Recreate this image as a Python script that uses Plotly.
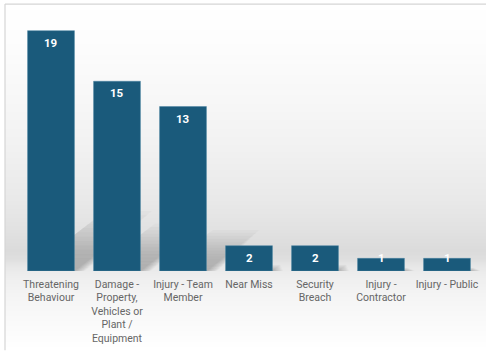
import base64
import struct
import zlib

import plotly.graph_objects as go

# Incident counts by category
categories = [
    "Threatening<br>Behaviour",
    "Damage -<br>Property,<br>Vehicles or<br>Plant /<br>Equipment",
    "Injury - Team<br>Member",
    "Near Miss",
    "Security<br>Breach",
    "Injury -<br>Contractor",
    "Injury - Public",
]
counts = [19, 15, 13, 2, 2, 1, 1]

W, H = 486, 351
M_L, M_R, M_T, M_B = 18, 6, 18, 78
PLOT_W = W - M_L - M_R
PLOT_H = H - M_T - M_B
Y_MAX = 20
PX_PER_UNIT = PLOT_H / Y_MAX

BAR_COLOR = "#1a5a7b"
BAR_EDGE = "#4a84a3"
TICK_COLOR = "#666666"
FONT = "Roboto"
BAR_GAP = 0.29
BAR_W = 1 - BAR_GAP


def px_to_paper_x(px):
    return (px - M_L) / PLOT_W


def px_to_paper_y(py):
    return (H - M_B - py) / PLOT_H


# Vertical grey "floor" gradient behind the plot, as a 1-pixel-wide PNG
grad_stops = [
    (0, 255), (40, 253), (100, 247), (150, 241), (200, 233), (230, 226),
    (252, 219), (260, 223), (268, 232), (280, 239), (300, 245),
    (330, 251), (351, 255),
]


def grey_at(y):
    for (y0, g0), (y1, g1) in zip(grad_stops, grad_stops[1:]):
        if y0 <= y <= y1:
            t = (y - y0) / (y1 - y0) if y1 > y0 else 0
            return round(g0 + (g1 - g0) * t)
    return 255


def png_column(values):
    raw = b"".join(b"\x00" + bytes([v]) for v in values)

    def chunk(tag, data):
        c = struct.pack(">I", len(data)) + tag + data
        return c + struct.pack(">I", zlib.crc32(tag + data) & 0xFFFFFFFF)

    ihdr = struct.pack(">IIBBBBB", 1, len(values), 8, 0, 0, 0, 0)
    png = (b"\x89PNG\r\n\x1a\n" + chunk(b"IHDR", ihdr)
           + chunk(b"IDAT", zlib.compress(raw)) + chunk(b"IEND", b""))
    return "data:image/png;base64," + base64.b64encode(png).decode()


CARD_X0, CARD_Y0 = 5, 4
grad_img = png_column([grey_at(y) for y in range(CARD_Y0, H)])

x_idx = list(range(len(categories)))

fig = go.Figure()
fig.add_trace(go.Bar(
    x=x_idx,
    y=counts,
    width=BAR_W,
    marker=dict(color=BAR_COLOR, line=dict(color=BAR_EDGE, width=0.5)),
    hoverinfo="skip",
))

shapes = []

# Card border (top and left edges)
shapes.append(dict(type="line", xref="paper", yref="paper",
                   x0=px_to_paper_x(CARD_X0), x1=px_to_paper_x(W + 2),
                   y0=px_to_paper_y(CARD_Y0), y1=px_to_paper_y(CARD_Y0),
                   line=dict(color="#d6d6d6", width=1.2), layer="above"))
shapes.append(dict(type="line", xref="paper", yref="paper",
                   x0=px_to_paper_x(CARD_X0), x1=px_to_paper_x(CARD_X0),
                   y0=px_to_paper_y(CARD_Y0), y1=px_to_paper_y(H + 2),
                   line=dict(color="#d6d6d6", width=1.2), layer="above"))

# Soft perspective shadows cast up and to the right of each bar
SHADOW_DX = 0.062   # category units per count
SHADOW_DY = 0.25    # fraction of the bar height
for i, v in enumerate(counts):
    left, right = i - BAR_W / 2, i + BAR_W / 2
    steps = 14
    for k in range(1, steps + 1):
        f = k / steps
        dx = SHADOW_DX * v * f
        dy = SHADOW_DY * v * f
        spread = 0.012 * (steps - k)
        path = (f"M {left},0 L {right + spread},0 "
                f"L {right + dx + spread},{dy} L {left + dx},{dy} Z")
        shapes.append(dict(type="path", xref="x", yref="y", path=path,
                           fillcolor="rgba(60,60,60,0.028)",
                           line=dict(width=0), layer="below"))

# Value labels inside the top of each bar
annotations = []
for i, v in enumerate(counts):
    h_px = v * PX_PER_UNIT
    shift = -min(12, max(0, h_px - 13))
    annotations.append(dict(
        x=i, y=v, xref="x", yref="y", text=str(v), showarrow=False,
        yanchor="middle", yshift=shift,
        font=dict(family=FONT, size=11.5, color="white", weight="bold"),
    ))

fig.update_layout(
    width=W, height=H,
    margin=dict(l=M_L, r=M_R, t=M_T, b=M_B, pad=0),
    paper_bgcolor="white",
    plot_bgcolor="rgba(0,0,0,0)",
    showlegend=False,
    shapes=shapes,
    annotations=annotations,
    images=[dict(
        source=grad_img, xref="paper", yref="paper",
        x=px_to_paper_x(CARD_X0), y=px_to_paper_y(CARD_Y0),
        sizex=px_to_paper_x(W + 2) - px_to_paper_x(CARD_X0),
        sizey=px_to_paper_y(CARD_Y0) - px_to_paper_y(H),
        xanchor="left", yanchor="top", sizing="stretch", layer="below",
    )],
    xaxis=dict(
        range=[-0.5, len(categories) - 0.5],
        tickmode="array", tickvals=x_idx, ticktext=categories,
        showgrid=False, zeroline=False, showline=False, ticks="",
        tickfont=dict(family=FONT, size=10.5, color=TICK_COLOR),
        ticklabelstandoff=5,
        fixedrange=True,
    ),
    yaxis=dict(
        range=[0, Y_MAX], visible=False, fixedrange=True,
    ),
)

fig.write_html("out.html", config={"displayModeBar": False})
